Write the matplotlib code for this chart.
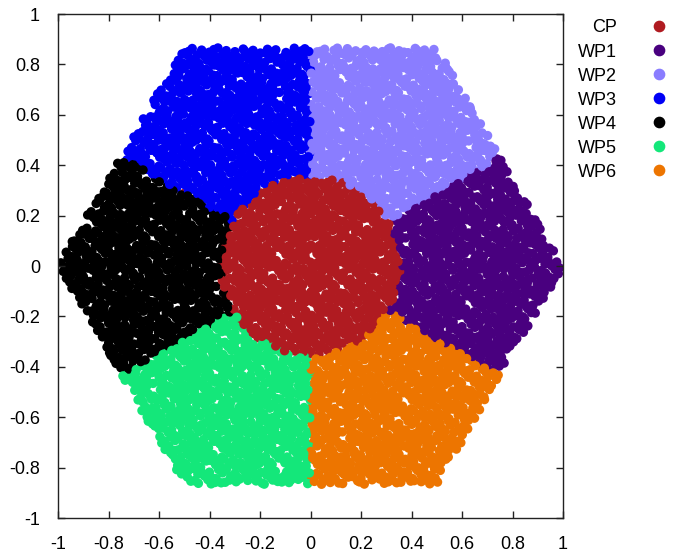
import numpy as np
import matplotlib
matplotlib.use("Agg")
import matplotlib.pyplot as plt
from matplotlib.lines import Line2D

# Cell layout: hexagonal cell split into a central part and six wedges
labels = ["CP", "WP1", "WP2", "WP3", "WP4", "WP5", "WP6"]
colors = ["#b01b21", "#49007f", "#8a7dff", "#0000f6", "#000000", "#14e77a", "#ed7500"]
hex_radius = 1.0
cp_radius = 0.355
wedge_centres_deg = [0, 60, 120, 180, 240, 300]   # WP1 .. WP6
n_samples = 7000
ticks = [-1, -0.8, -0.6, -0.4, -0.2, 0, 0.2, 0.4, 0.6, 0.8, 1]

plt.rcParams["font.family"] = ["Liberation Sans", "DejaVu Sans"]
plt.rcParams["font.size"] = 13


def halton(n, base):
    out = np.zeros(n)
    for k in range(n):
        i, f, r = k + 1, 1.0, 0.0
        while i > 0:
            f /= base
            r += f * (i % base)
            i //= base
        out[k] = r
    return out


# Low-discrepancy user positions over the hexagon's bounding box
h = np.sqrt(3) / 2 * hex_radius
x = (halton(n_samples, 2) * 2 - 1) * hex_radius
y = (halton(n_samples, 3) * 2 - 1) * h
inside = (np.abs(y) <= h) & (np.sqrt(3) * np.abs(x) + np.abs(y) <= np.sqrt(3) * hex_radius)
x, y = x[inside], y[inside]

# Assign each position to its zone
r = np.hypot(x, y)
theta = np.degrees(np.arctan2(y, x)) % 360
zone = np.zeros(len(x), dtype=int)
for k, c in enumerate(wedge_centres_deg):
    d = (theta - c + 180) % 360 - 180
    zone[(np.abs(d) < 30) & (r > cp_radius)] = k + 1

fig = plt.figure(figsize=(6.73, 5.56), dpi=100)
ax = fig.add_axes([0.0862, 0.0683, 0.7504, 0.9065])

point_colors = np.array(colors)[zone]
ax.scatter(x, y, s=46, c=point_colors, linewidths=0)

ax.set_xlim(-1, 1)
ax.set_ylim(-1, 1)
ax.set_xticks(ticks)
ax.set_yticks(ticks)
ax.set_xticklabels([f"{t:g}" for t in ticks])
ax.set_yticklabels([f"{t:g}" for t in ticks])
ax.tick_params(direction="in", length=5, width=1, top=True, right=True,
               pad=13, colors="#222222", labelcolor="black")
for s in ax.spines.values():
    s.set_linewidth(1)
    s.set_color("#222222")

# Key outside the plot: labels right-aligned, markers on the right
handles = [Line2D([], [], linestyle="none", marker="o", markersize=7.4,
                  markerfacecolor=c, markeredgecolor=c) for c in colors]
ax.legend(handles, labels, loc="upper right", bbox_to_anchor=(668 / 673, 0.965),
          bbox_transform=fig.transFigure, frameon=False, markerfirst=False,
          handlelength=1.0, handletextpad=1.83, labelspacing=0.39,
          borderpad=0, borderaxespad=0)

fig.savefig("out.png", dpi=100)
